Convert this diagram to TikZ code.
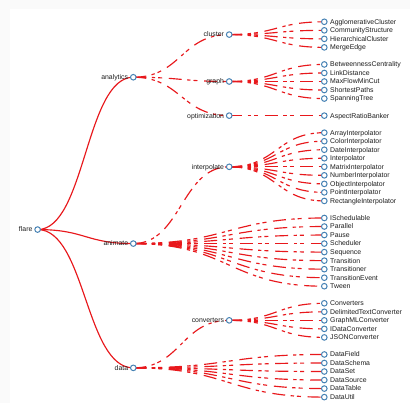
\documentclass[tikz,border=0pt]{standalone}
\usepackage{fontspec}
\setmainfont{Liberation Sans}
\usetikzlibrary{calc,backgrounds}
\definecolor{linkred}{RGB}{232,24,28}
\definecolor{steel}{RGB}{70,130,180}
\definecolor{txt}{RGB}{30,30,30}
\tikzset{
  dot/.style={circle, draw=steel, fill=white, line width=1pt, minimum size=5.6pt, inner sep=0pt},
  lbl/.style={font=\fontsize{6.9}{8}\selectfont, text=txt, inner sep=0pt},
  link/.style={draw=linkred, line width=1.15pt},
  dashlink/.style={link, dash pattern=on 13pt off 5.5pt on 3.3pt off 3pt on 4pt off 6.7pt},
}
\newcommand\lnk[3][link]{\draw[#1] let \p1=(#2.center), \p2=(#3.center) in
  (\p1) .. controls ({0.5*\x1+0.5*\x2},\y1) and ({0.5*\x1+0.5*\x2},\y2) .. (\p2);}
\newcommand\leafnode[3]{\node[dot] (#1) at (324.3,{21.8+8.53*#2}) {};
  \node[lbl, anchor=base west] (#1-l) at ([xshift=5.7pt,yshift=-2.4pt]#1.center) {#3};}
\newcommand\innernode[4]{\node[dot] (#1) at (#2,{21.8+8.53*#3}) {};
  \node[lbl, anchor=base east] (#1-l) at ([xshift=-5pt,yshift=-2.4pt]#1.center) {#4};}
\begin{document}
\begin{tikzpicture}[x=1pt,y=-1pt]
\useasboundingbox (0,0) rectangle (410,403);
% nodes
\innernode{flare}{37.6}{24.357}{flare}
\innernode{analytics}{133.3}{6.5}{analytics}
\innernode{animate}{133.3}{26}{animate}
\innernode{data}{133.3}{40.571}{data}
\innernode{cluster}{229.2}{1.5}{cluster}
\innernode{graph}{229.2}{7}{graph}
\innernode{optimization}{229.2}{11}{optimization}
\innernode{interpolate}{229.2}{17}{interpolate}
\innernode{converters}{229.2}{35}{converters}
\leafnode{AgglomerativeCluster}{0}{AgglomerativeCluster}
\leafnode{CommunityStructure}{1}{CommunityStructure}
\leafnode{HierarchicalCluster}{2}{HierarchicalCluster}
\leafnode{MergeEdge}{3}{MergeEdge}
\leafnode{BetweennessCentrality}{5}{BetweennessCentrality}
\leafnode{LinkDistance}{6}{LinkDistance}
\leafnode{MaxFlowMinCut}{7}{MaxFlowMinCut}
\leafnode{ShortestPaths}{8}{ShortestPaths}
\leafnode{SpanningTree}{9}{SpanningTree}
\leafnode{AspectRatioBanker}{11}{AspectRatioBanker}
\leafnode{ArrayInterpolator}{13}{ArrayInterpolator}
\leafnode{ColorInterpolator}{14}{ColorInterpolator}
\leafnode{DateInterpolator}{15}{DateInterpolator}
\leafnode{Interpolator}{16}{Interpolator}
\leafnode{MatrixInterpolator}{17}{MatrixInterpolator}
\leafnode{NumberInterpolator}{18}{NumberInterpolator}
\leafnode{ObjectInterpolator}{19}{ObjectInterpolator}
\leafnode{PointInterpolator}{20}{PointInterpolator}
\leafnode{RectangleInterpolator}{21}{RectangleInterpolator}
\leafnode{ISchedulable}{23}{ISchedulable}
\leafnode{Parallel}{24}{Parallel}
\leafnode{Pause}{25}{Pause}
\leafnode{Scheduler}{26}{Scheduler}
\leafnode{Sequence}{27}{Sequence}
\leafnode{Transition}{28}{Transition}
\leafnode{Transitioner}{29}{Transitioner}
\leafnode{TransitionEvent}{30}{TransitionEvent}
\leafnode{Tween}{31}{Tween}
\leafnode{Converters}{33}{Converters}
\leafnode{DelimitedTextConverter}{34}{DelimitedTextConverter}
\leafnode{GraphMLConverter}{35}{GraphMLConverter}
\leafnode{IDataConverter}{36}{IDataConverter}
\leafnode{JSONConverter}{37}{JSONConverter}
\leafnode{DataField}{39}{DataField}
\leafnode{DataSchema}{40}{DataSchema}
\leafnode{DataSet}{41}{DataSet}
\leafnode{DataSource}{42}{DataSource}
\leafnode{DataTable}{43}{DataTable}
\leafnode{DataUtil}{44}{DataUtil}
\begin{pgfonlayer}{background}
\fill[black!2] (0,0) rectangle (410,403);
\fill[white] (10,9.3) rectangle (410,403);
% depth 1
\lnk{flare}{analytics}
\lnk{flare}{animate}
\lnk{flare}{data}
% depth 2
\foreach \t in {cluster,graph,optimization}{\lnk[dashlink]{analytics}{\t}}
\foreach \t in {interpolate,ISchedulable,Parallel,Pause,Scheduler,Sequence,Transition,Transitioner,TransitionEvent,Tween}{\lnk[dashlink]{animate}{\t}}
\foreach \t in {converters,DataField,DataSchema,DataSet,DataSource,DataTable,DataUtil}{\lnk[dashlink]{data}{\t}}
% depth 3
\foreach \t in {AgglomerativeCluster,CommunityStructure,HierarchicalCluster,MergeEdge}{\lnk[dashlink]{cluster}{\t}}
\foreach \t in {BetweennessCentrality,LinkDistance,MaxFlowMinCut,ShortestPaths,SpanningTree}{\lnk[dashlink]{graph}{\t}}
\lnk[dashlink]{optimization}{AspectRatioBanker}
\foreach \t in {ArrayInterpolator,ColorInterpolator,DateInterpolator,Interpolator,MatrixInterpolator,NumberInterpolator,ObjectInterpolator,PointInterpolator,RectangleInterpolator}{\lnk[dashlink]{interpolate}{\t}}
\foreach \t in {Converters,DelimitedTextConverter,GraphMLConverter,IDataConverter,JSONConverter}{\lnk[dashlink]{converters}{\t}}
\end{pgfonlayer}
\end{tikzpicture}
\end{document}
